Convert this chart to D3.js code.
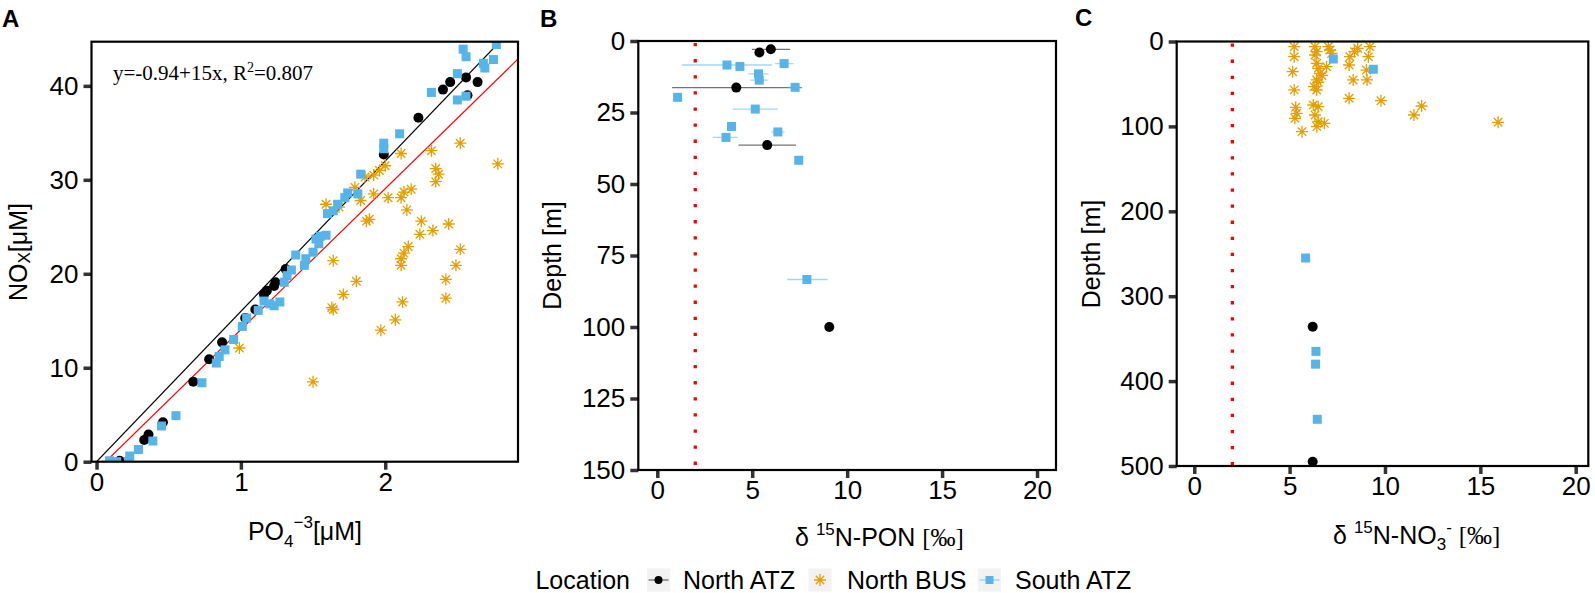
<!DOCTYPE html>
<html>
<head>
<meta charset="utf-8">
<script src="https://cdn.jsdelivr.net/npm/d3@7"></script>
<style>
  body { margin: 0; background: #fff; }
  text { font-family: "Liberation Sans", Arial, sans-serif; }
</style>
</head>
<body>
<div id="chart"></div>
<script>
var w = 1595;
var h = 593;

// legend categories
var locations = ["North ATZ", "North BUS", "South ATZ"];

// panel A : PO4 vs NOx  [x, y]
var aNorthATZ = [[2.23,36.6],[2.40,39.6],[2.45,40.4],[2.56,40.9],[2.64,40.4],[2.57,39.0],[1.99,32.7],
  [1.31,20.5],[1.24,19.1],[1.23,18.7],[1.18,18.2],[1.16,17.8],[1.10,16.2],[1.03,15.3],[0.87,12.7],
  [0.78,10.9],[0.67,8.5],[0.46,4.2],[0.36,2.9],[0.33,2.3],[0.16,0.1]];
var aNorthBUS = [[1.59,27.4],[1.68,27.1],[1.79,29.2],[1.83,27.8],[1.86,30.3],[1.92,30.5],[1.96,31.0],
  [2.00,31.5],[2.11,32.8],[1.92,28.5],[2.02,28.1],[2.11,28.1],[2.13,28.7],[2.18,29.0],[2.15,26.8],
  [2.32,33.1],[2.52,33.9],[2.35,31.2],[2.37,30.6],[2.35,29.8],[2.78,31.7],[1.87,25.6],[1.89,25.8],
  [2.25,25.6],[2.33,24.6],[2.24,24.2],[2.44,25.3],[2.52,22.6],[2.16,22.9],[2.13,22.2],[1.64,21.4],
  [2.11,21.6],[2.11,20.9],[2.49,20.9],[2.42,19.4],[2.42,17.4],[1.80,19.2],[1.71,17.8],[1.63,16.4],
  [1.64,16.2],[2.12,17.0],[2.07,15.1],[1.97,14.0],[0.99,12.1],[1.50,8.5]];
var aSouthATZ = [[2.54,43.9],[2.56,43.1],[2.68,42.4],[2.69,41.9],[2.75,42.8],[2.77,44.4],[2.32,39.3],
  [2.50,41.3],[2.50,38.5],[2.56,38.9],[2.10,34.9],[1.99,33.9],[1.99,33.3],[1.83,30.6],[1.81,28.5],
  [1.74,28.6],[1.72,28.1],[1.67,27.4],[1.64,26.7],[1.60,26.4],[1.55,24.0],[1.52,23.7],[1.59,24.1],
  [1.54,23.2],[1.50,22.3],[1.45,21.6],[1.44,20.9],[1.38,22.0],[1.35,20.4],[1.32,19.8],[1.30,19.1],
  [1.16,17.1],[1.20,16.8],[1.27,17.0],[1.23,16.6],[1.12,16.1],[1.04,15.3],[1.01,14.4],[0.95,13.0],
  [0.89,11.9],[0.85,11.2],[0.83,10.5],[0.73,8.4],[0.55,4.9],[0.45,3.8],[0.39,2.2],[0.29,1.3],
  [0.23,0.6],[0.09,0.1],[0.14,0.0],[0.22,0.0]];
var redfieldSlope = 16;
var fitIntercept = -0.94;
var fitSlope = 15;

// panel B : d15N-PON vs depth  [value, depth, xmin, xmax]
var bNorthATZ = [[5.98,2.9,4.98,7.0],[5.38,4.0,null,null],[4.16,16.3,0.78,7.61],[5.79,36.4,4.28,7.31],
  [9.06,100,null,null]];
var bSouthATZ = [[3.67,8.4,1.30,6.04],[4.35,8.9,null,null],[6.68,7.9,6.21,7.17],[5.33,11.5,4.8,5.86],
  [5.37,13.7,4.9,5.85],[1.07,19.7,null,null],[7.26,16.2,6.9,7.6],[5.16,23.8,3.98,6.35],
  [3.91,29.9,null,null],[6.35,31.8,6.0,6.7],[3.62,33.7,2.93,4.23],[7.45,41.7,null,null],
  [7.88,83.4,6.84,8.97]];

// panel C : d15N-NO3 vs depth  [value, depth]
var cNorthATZ = [[6.21,336],[6.21,495]];
var cNorthBUS = [[5.24,6.1],[5.24,17.9],[5.16,35.6],[5.24,57],[5.32,77.5],[5.37,84.6],[5.28,90.5],
  [6.33,6.1],[6.42,12],[6.33,15.9],[7.03,6.1],[7.12,10],[6.42,25.7],[6.5,31.6],[6.94,29.7],[6.6,37.5],
  [6.42,45.3],[6.28,53.2],[6.42,57.1],[6.24,74.8],[6.5,76.8],[6.33,86.6],[6.5,94.5],[6.82,96.4],
  [8.16,17.9],[8.57,8],[9.21,6.1],[9.13,17.9],[8.12,27.7],[8.33,45.3],[9.06,45.3],[9.03,33.6],
  [8.12,66.9],[9.79,69.7],[11.52,86.6],[11.92,76],[15.93,95.2],[5.65,106.2],[6.43,100.3],
  [8.4,12],[7.2,14],[6.7,40],[6.5,48]];
var cSouthATZ = [[7.29,20.6],[9.39,32.7],[5.84,255],[6.38,365],[6.36,380],[6.45,445]];
var refLine = 2;

var xTicksA = [0, 1, 2];
var yTicksA = [0, 10, 20, 30, 40];
var xTicksBC = [0, 5, 10, 15, 20];
var yTicksB = [0, 25, 50, 75, 100, 125, 150];
var yTicksC = [0, 100, 200, 300, 400, 500];

var colBlack = "#000000";
var colOrange = "#E69F00";
var colBlue = "#56B4E9";
var tickFont = 26;

function asteriskPath(s) {
  var a = s * 0.7071;
  return 'M' + (-s) + ',0L' + s + ',0M0,' + (-s) + 'L0,' + s +
    'M' + (-a) + ',' + (-a) + 'L' + a + ',' + a + 'M' + (-a) + ',' + a + 'L' + a + ',' + (-a);
}

function drawCircles(g, data, x, y) {
  g.selectAll(null).data(data).enter().append('circle')
    .attr('cx', function(d) { return x(d[0]); })
    .attr('cy', function(d) { return y(d[1]); })
    .attr('r', 5)
    .attr('fill', colBlack);
}

function drawSquares(g, data, x, y) {
  g.selectAll(null).data(data).enter().append('rect')
    .attr('x', function(d) { return x(d[0]) - 4.5; })
    .attr('y', function(d) { return y(d[1]) - 4.5; })
    .attr('width', 9).attr('height', 9)
    .attr('fill', colBlue);
}

function drawStars(g, data, x, y) {
  g.selectAll(null).data(data).enter().append('path')
    .attr('transform', function(d) { return 'translate(' + x(d[0]) + ',' + y(d[1]) + ')'; })
    .attr('d', asteriskPath(6))
    .attr('stroke', colOrange).attr('stroke-width', 1.3).attr('fill', 'none');
}

function drawErrorBars(g, data, x, y, col) {
  g.selectAll(null).data(data.filter(function(d) { return d[2] != null; })).enter().append('line')
    .attr('x1', function(d) { return x(d[2]); })
    .attr('x2', function(d) { return x(d[3]); })
    .attr('y1', function(d) { return y(d[1]); })
    .attr('y2', function(d) { return y(d[1]); })
    .attr('stroke', col).attr('stroke-opacity', 0.55).attr('stroke-width', 1.3);
}

function makePanel(svg, id, x, y, xTicks, yTicks) {
  var x0 = x.range()[0], x1 = x.range()[1];
  var yTop = d3.min(y.range()), yBot = d3.max(y.range());

  svg.append('clipPath').attr('id', 'clip' + id)
    .append('rect').attr('x', x0).attr('y', yTop).attr('width', x1 - x0).attr('height', yBot - yTop);

  var xa = svg.append('g')
    .attr('transform', 'translate(0,' + yBot + ')')
    .call(d3.axisBottom(x).tickValues(xTicks).tickFormat(d3.format('d'))
      .tickSize(8).tickPadding(3).tickSizeOuter(0));
  var ya = svg.append('g')
    .attr('transform', 'translate(' + x0 + ',0)')
    .call(d3.axisLeft(y).tickValues(yTicks).tickFormat(d3.format('d'))
      .tickSize(8).tickPadding(5).tickSizeOuter(0));
  [xa, ya].forEach(function(a) {
    a.select('.domain').remove();
    a.selectAll('line').attr('stroke', '#333').attr('stroke-width', 3.5);
    a.selectAll('text').attr('font-size', tickFont).attr('fill', '#000')
      .attr('font-family', '"Liberation Sans", Arial, sans-serif');
  });

  var plot = svg.append('g').attr('clip-path', 'url(#clip' + id + ')');

  svg.append('rect')
    .attr('x', x0).attr('y', yTop).attr('width', x1 - x0).attr('height', yBot - yTop)
    .attr('fill', 'none').attr('stroke', '#000').attr('stroke-width', 2.2);

  return plot;
}

function initializeChart() {
  var svg = d3.select('#chart').append('svg')
    .attr('width', w).attr('height', h);

  // ---------- panel A
  var xA = d3.scaleLinear().domain([-0.035, 2.92]).range([91.5, 518]);
  var yA = d3.scaleLinear().domain([0, 44.7]).range([461.7, 41.7]);
  var pA = makePanel(svg, 'A', xA, yA, xTicksA, yTicksA);

  var line = d3.line().x(function(d) { return xA(d[0]); }).y(function(d) { return yA(d[1]); });
  var xs = xA.domain();
  pA.append('path')
    .attr('d', line(xs.map(function(v) { return [v, redfieldSlope * v]; })))
    .attr('stroke', '#000').attr('stroke-width', 1.2).attr('fill', 'none');
  pA.append('path')
    .attr('d', line(xs.map(function(v) { return [v, fitIntercept + fitSlope * v]; })))
    .attr('stroke', '#FF0000').attr('stroke-width', 1.2).attr('fill', 'none');

  drawCircles(pA, aNorthATZ, xA, yA);
  drawStars(pA, aNorthBUS, xA, yA);
  drawSquares(pA, aSouthATZ, xA, yA);

  var eq = svg.append('text').attr('x', 113).attr('y', 80).attr('font-size', 21)
    .style('font-family', '"Liberation Serif", "Times New Roman", serif');
  eq.append('tspan').text('y=' + fitIntercept + '+' + fitSlope + 'x, R');
  eq.append('tspan').attr('font-size', 14).attr('dy', -8).text('2');
  eq.append('tspan').attr('dy', 8).text('=0.807');

  var tA = svg.append('text').attr('x', 305).attr('y', 540).attr('text-anchor', 'middle').attr('font-size', 25);
  tA.append('tspan').text('PO');
  tA.append('tspan').attr('font-size', 17).attr('dy', 7).text('4');
  tA.append('tspan').attr('font-size', 17).attr('dy', -19).text('\u22123');
  tA.append('tspan').attr('dy', 12).text('[\u03bcM]');

  var yTA = svg.append('text').attr('transform', 'translate(27,252) rotate(-90)')
    .attr('text-anchor', 'middle').attr('font-size', 25);
  yTA.append('tspan').text('NO');
  yTA.append('tspan').attr('font-size', 17).attr('dy', 3).text('X');
  yTA.append('tspan').attr('dy', -3).text('[\u03bcM]');

  // ---------- panel B
  var xB = d3.scaleLinear().domain([-1, 21]).range([638.3, 1056]);
  var yB = d3.scaleLinear().domain([0, 150]).range([41, 470]);
  var pB = makePanel(svg, 'B', xB, yB, xTicksBC, yTicksB);

  pB.append('line')
    .attr('x1', xB(refLine)).attr('x2', xB(refLine)).attr('y1', yB(0)).attr('y2', yB(150))
    .attr('stroke', '#FF0000').attr('stroke-width', 3.3).attr('stroke-dasharray', '3.3,12.8')
    .attr('stroke-dashoffset', -2);
  drawErrorBars(pB, bNorthATZ, xB, yB, '#000');
  drawErrorBars(pB, bSouthATZ, xB, yB, colBlue);
  drawCircles(pB, bNorthATZ, xB, yB);
  drawSquares(pB, bSouthATZ, xB, yB);

  var tB = svg.append('text').attr('x', 795).attr('y', 546).attr('font-size', 25);
  tB.append('tspan').text('\u03b4 ');
  tB.append('tspan').attr('font-size', 17).attr('dy', -11).text('15');
  tB.append('tspan').attr('dy', 11).text('N-PON  ');
  tB.append('tspan').style('font-family', '"Liberation Serif", serif').text('[\u2030]');

  svg.append('text').attr('transform', 'translate(561,255.5) rotate(-90)')
    .attr('text-anchor', 'middle').attr('font-size', 25).text('Depth [m]');

  // ---------- panel C
  var xC = d3.scaleLinear().domain([-0.92, 20.66]).range([1176.7, 1588.3]);
  var yC = d3.scaleLinear().domain([0, 500]).range([41.5, 466]);
  var pC = makePanel(svg, 'C', xC, yC, xTicksBC, yTicksC);

  pC.append('line')
    .attr('x1', xC(refLine)).attr('x2', xC(refLine)).attr('y1', yC(0)).attr('y2', yC(500))
    .attr('stroke', '#FF0000').attr('stroke-width', 3.3).attr('stroke-dasharray', '3.3,12.8')
    .attr('stroke-dashoffset', -2);
  drawCircles(pC, cNorthATZ, xC, yC);
  drawStars(pC, cNorthBUS, xC, yC);
  drawSquares(pC, cSouthATZ, xC, yC);

  var tC = svg.append('text').attr('x', 1333).attr('y', 544).attr('font-size', 25);
  tC.append('tspan').text('\u03b4 ');
  tC.append('tspan').attr('font-size', 17).attr('dy', -11).text('15');
  tC.append('tspan').attr('dy', 11).text('N-NO');
  tC.append('tspan').attr('font-size', 17).attr('dy', 6).text('3');
  tC.append('tspan').attr('font-size', 17).attr('dy', -17).text('-');
  tC.append('tspan').attr('dy', 11).text('  ');
  tC.append('tspan').style('font-family', '"Liberation Serif", serif').text('[\u2030]');

  svg.append('text').attr('transform', 'translate(1100,254) rotate(-90)')
    .attr('text-anchor', 'middle').attr('font-size', 25).text('Depth [m]');

  // ---------- panel letters
  [['A', 2, 27], ['B', 540, 27], ['C', 1075, 26]].forEach(function(p) {
    svg.append('text').attr('x', p[1]).attr('y', p[2])
      .attr('font-size', 24).attr('font-weight', 'bold').text(p[0]);
  });

  // ---------- legend
  var legY = 580;
  svg.append('text').attr('x', 630).attr('y', legY).attr('dy', '0.35em')
    .attr('text-anchor', 'end').attr('font-size', 25).text('Location');
  var keyX = [658.5, 820, 989.5];
  var textX = [683, 847, 1015];
  locations.forEach(function(name, i) {
    var k = svg.append('g').attr('transform', 'translate(' + keyX[i] + ',' + legY + ')');
    k.append('rect').attr('x', -11.5).attr('y', -11.5).attr('width', 23).attr('height', 23).attr('fill', '#F2F2F2');
    if (i == 0) {
      k.append('line').attr('x1', -10).attr('x2', 10).attr('stroke', '#000').attr('stroke-opacity', 0.55).attr('stroke-width', 1.3);
      k.append('circle').attr('r', 4).attr('fill', colBlack);
    } else if (i == 1) {
      k.append('path').attr('d', asteriskPath(6)).attr('stroke', colOrange).attr('stroke-width', 1.3).attr('fill', 'none');
    } else {
      k.append('line').attr('x1', -10).attr('x2', 10).attr('stroke', colBlue).attr('stroke-opacity', 0.55).attr('stroke-width', 1.3);
      k.append('rect').attr('x', -4).attr('y', -4).attr('width', 8).attr('height', 8).attr('fill', colBlue);
    }
    svg.append('text').attr('x', textX[i]).attr('y', legY).attr('dy', '0.35em')
      .attr('font-size', 25).text(name);
  });
}

initializeChart();
</script>
</body>
</html>
